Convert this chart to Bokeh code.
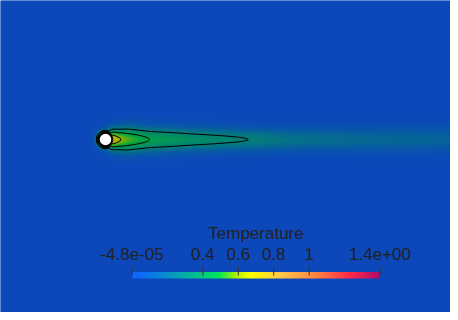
import numpy as np
from bokeh.plotting import figure
from bokeh.models import Range1d, LinearColorMapper
from bokeh.core.properties import value
from bokeh.embed import file_html
from bokeh.resources import INLINE

# ---------------- data ----------------
cb_title = "Temperature"
cb_low = -4.8e-05
cb_high = 1.4
cb_ticks = [-4.8e-05, 0.4, 0.6, 0.8, 1.0, 1.4]
cb_labels = ["-4.8e-05", "0.4", "0.6", "0.8", "1", "1.4e+00"]

# colour map stops (fraction of range, colour)
cmap_pos = [0.0, 0.08, 0.22, 0.35, 0.42, 0.48, 0.60, 0.75, 0.88, 1.0]
cmap_hex = ["#1062ff", "#0a78e6", "#05b0a0", "#00e65a", "#b4f000",
            "#ffff00", "#ffc848", "#ff8040", "#ff2848", "#b00c6c"]

# temperature at the cylinder surface and wake
cyl_temp = 1.0
wake_x = [98, 105, 112, 118, 127, 149, 192, 248, 292, 352, 450]
wake_T = [0.0, 0.35, 0.70, 0.62, 0.55, 0.45, 0.37, 0.30, 0.24, 0.20, 0.17]
wake_sig = [7.0, 7.5, 8.0, 8.5, 9.5, 9.0, 8.5, 8.0, 8.0, 8.5, 9.0]
contour_levels = [0.3, 0.45, 0.6, 0.75]

# ---------------- layout constants ----------------
W, H = 450, 312
cx, cy, R = 105.0, 173.0, 6.5      # cylinder (data coords)
delta = 2.2                        # thermal boundary layer thickness
shade = 0.73                       # lighting on the field

def hex2rgb(h):
    return np.array([int(h[i:i + 2], 16) for i in (1, 3, 5)], dtype=float)

def build_palette(factor):
    stops = np.array([hex2rgb(c) for c in cmap_hex])
    t = np.linspace(0, 1, 256)
    out = []
    for k in range(256):
        rgb = [np.interp(t[k], cmap_pos, stops[:, j]) * factor for j in range(3)]
        out.append("#%02x%02x%02x" % tuple(int(round(min(255, v))) for v in rgb))
    return out

bar_pal = build_palette(1.0)
field_pal = build_palette(shade)
bg = field_pal[0]

# ---------------- field ----------------
xs = np.arange(W) + 0.5
ys = np.arange(H) + 0.5
X, Y = np.meshgrid(xs, ys)
r = np.hypot(X - cx, Y - cy)
cyl = np.where(r <= R, cyl_temp, cyl_temp * np.exp(-np.maximum(r - R, 0) / delta))
Tc = np.interp(X, wake_x, wake_T, left=0.0)
sg = np.interp(X, wake_x, wake_sig)
wake = Tc * np.exp(-(Y - cy) ** 2 / (2 * sg ** 2))
T = np.maximum(cyl, wake)

field_mapper = LinearColorMapper(palette=field_pal, low=cb_low, high=cb_high)
bar_mapper = LinearColorMapper(palette=bar_pal, low=cb_low, high=cb_high)

p = figure(width=W, height=H, x_range=Range1d(0, W), y_range=Range1d(0, H),
           output_backend="svg", toolbar_location=None, min_border=0,
           background_fill_color=bg, border_fill_color=bg, outline_line_color=None)
p.axis.visible = False
p.grid.visible = False

p.image(image=[T], x=0, y=0, dw=W, dh=H, color_mapper=field_mapper)
p.contour(x=xs, y=ys, z=T, levels=contour_levels, line_color="black", line_width=1)
p.circle(x=[cx], y=[cy], radius=R, fill_color="white", line_color="black", line_width=1.5)

# ---------------- colour bar ----------------
bar_l, bar_r = 131.5, 379.5
scale = (cb_high - cb_low) / (bar_r - bar_l)
start = cb_low - bar_l * scale
p.extra_x_ranges = {"cb": Range1d(start, start + W * scale)}

grad = np.linspace(cb_low, cb_high, 256)[None, :]
p.image(image=[grad], x=cb_low, y=34, dw=cb_high - cb_low, dh=6.5,
        color_mapper=bar_mapper, x_range_name="cb")
p.segment(x0=cb_ticks, x1=cb_ticks, y0=[46] * len(cb_ticks), y1=[37] * len(cb_ticks),
          line_color="#333333", line_width=1, x_range_name="cb")
p.text(x=cb_ticks, y=[59] * len(cb_ticks), text=cb_labels, text_align="center",
       text_baseline="alphabetic", text_font=value("Liberation Sans"),
       text_font_size="17px", text_color="#222222", x_range_name="cb")
p.text(x=[(cb_low + cb_high) / 2], y=[79], text=[cb_title], text_align="center",
       text_baseline="alphabetic", text_font=value("Liberation Sans"),
       text_font_size="17px", text_color="#222222", x_range_name="cb")

open("out.html", "w").write(file_html(p, INLINE))
